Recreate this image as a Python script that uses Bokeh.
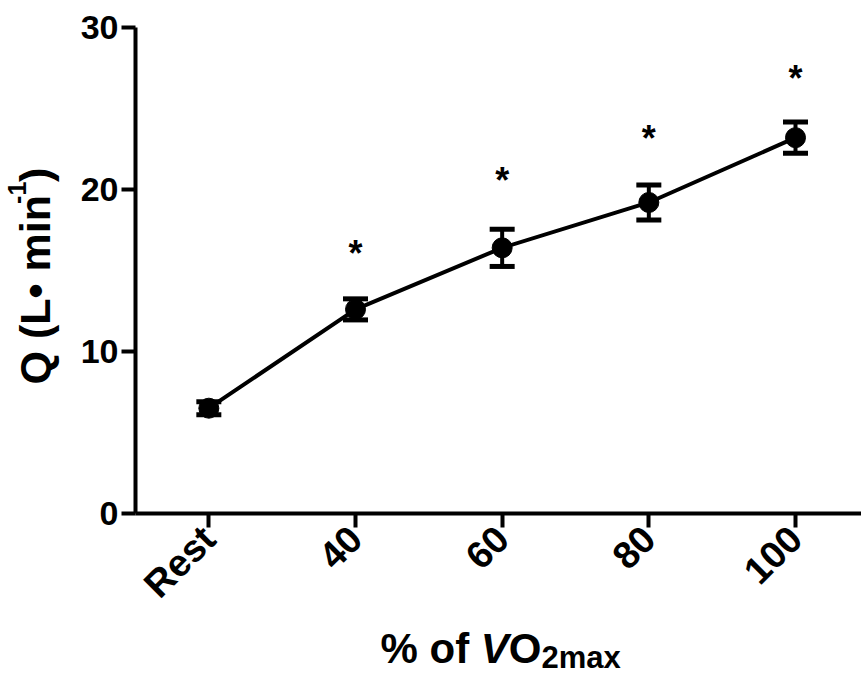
import math
from bokeh.plotting import figure
from bokeh.layouts import row, column
from bokeh.models import ColumnDataSource, Whisker, TeeHead, FixedTicker, Range1d
from bokeh.core.properties import value
from bokeh.embed import file_html
from bokeh.resources import INLINE

# ---- data ----
categories = ["Rest", "40", "60", "80", "100"]
q_mean = [6.5, 12.6, 16.4, 19.2, 23.2]
q_err = [0.4, 0.65, 1.15, 1.08, 0.96]
star_cats = [1, 2, 3, 4]
star_y = [16.4, 20.9, 23.5, 27.2]
y_ticks = [0, 10, 20, 30]

FONT = "Liberation Sans"
x_idx = list(range(len(categories)))

W, H = 861, 677
LW = 70           # width of the y-title strip
HB = 54           # height of the x-title strip
H1 = H - HB
FR_TOP, FR_BOT, FR_LEFT = 27, 513, 135

src = ColumnDataSource(dict(
    x=x_idx, y=q_mean,
    lo=[m - e for m, e in zip(q_mean, q_err)],
    hi=[m + e for m, e in zip(q_mean, q_err)],
))
star_src = ColumnDataSource(dict(x=star_cats, y=star_y, t=["*"] * len(star_cats)))

p = figure(width=W - LW, height=H1, output_backend="svg", toolbar_location=None,
           title=None, x_range=Range1d(-0.5, 4.45), y_range=Range1d(0, 30),
           min_border_left=FR_LEFT - LW, min_border_right=0, min_border_top=FR_TOP,
           min_border_bottom=H1 - FR_BOT)
p.outline_line_color = None
p.grid.visible = False

p.line("x", "y", source=src, line_width=4, line_color="black")
head = dict(size=25, line_width=5, line_color="black")
p.add_layout(Whisker(base="x", lower="lo", upper="hi", source=src, line_width=4,
                     line_color="black", upper_head=TeeHead(**head),
                     lower_head=TeeHead(**head)))
p.scatter("x", "y", source=src, size=20, fill_color="black", line_color="black")

p.text("x", "y", text="t", source=star_src, text_font=value(FONT), text_font_style="bold",
       text_font_size="36px", text_align="center", text_baseline="middle", y_offset=6,
       text_color="black")

for ax in (p.xaxis[0], p.yaxis[0]):
    ax.axis_line_width = 4
    ax.axis_line_color = "black"
    ax.major_tick_line_width = 4
    ax.major_tick_line_color = "black"
    ax.major_tick_out = 14
    ax.major_tick_in = 0
    ax.minor_tick_line_color = None
    ax.major_label_text_font = FONT
    ax.major_label_text_font_style = "bold"
    ax.major_label_text_color = "black"

p.yaxis.ticker = FixedTicker(ticks=y_ticks)
p.yaxis.major_label_text_font_size = "34px"
p.yaxis.major_label_standoff = 3
p.xaxis.ticker = FixedTicker(ticks=x_idx)
p.xaxis.major_label_overrides = {i: c for i, c in zip(x_idx, categories)}
p.xaxis.major_label_orientation = math.pi / 4
p.xaxis.major_label_text_font_size = "38px"
p.xaxis.major_label_standoff = 5

# ---- y title strip: Q (L• min^-1); y measured in px from the strip's bottom ----
pl = figure(width=LW, height=H1, output_backend="svg", toolbar_location=None, title=None,
            x_range=Range1d(0, LW), y_range=Range1d(H1 - FR_BOT, H1 - FR_TOP),
            x_axis_type=None, y_axis_type=None, min_border=0)
pl.outline_line_color = None
pl.grid.visible = False
F = 43
yb = 34
y0 = H1 - 384
w1 = 4.2 * F
ysrc = ColumnDataSource(dict(
    x=[yb, yb - 18, yb], y=[y0, y0 + w1, y0 + w1 + 22],
    t=["Q (L\u2022 min", "-1", ")"], s=[f"{F}px", "25px", f"{F}px"]))
pl.text("x", "y", text="t", source=ysrc, angle=math.pi / 2, text_font=value(FONT),
        text_font_style="bold", text_font_size="s", text_align="left",
        text_baseline="alphabetic", text_color="black")

# ---- x title strip: % of VO2max ----
pb = figure(width=W, height=HB, output_backend="svg", toolbar_location=None, title=None,
            x_range=Range1d(0, W), y_range=Range1d(0, HB), x_axis_type=None,
            y_axis_type=None, min_border=0)
pb.outline_line_color = None
pb.grid.visible = False
G = 42
bx, by = 380, 29
xs_norm = ColumnDataSource(dict(x=[bx, bx + 3.056 * G], y=[by, by], t=["% of ", "O"]))
pb.text("x", "y", text="t", source=xs_norm, text_font=value(FONT), text_font_style="bold",
        text_font_size=f"{G}px", text_align="left", text_baseline="alphabetic",
        text_color="black")
xs_it = ColumnDataSource(dict(x=[bx + 2.389 * G], y=[by], t=["V"]))
pb.text("x", "y", text="t", source=xs_it, text_font=value(FONT),
        text_font_style="bold italic", text_font_size=f"{G}px", text_align="left",
        text_baseline="alphabetic", text_color="black")
xs_sub = ColumnDataSource(dict(x=[bx + 3.834 * G], y=[by - 9], t=["2max"]))
pb.text("x", "y", text="t", source=xs_sub, text_font=value(FONT), text_font_style="bold",
        text_font_size="31px", text_align="left", text_baseline="alphabetic",
        text_color="black")

layout = column(row(pl, p), pb)
open("out.html", "w").write(file_html(layout, INLINE))
